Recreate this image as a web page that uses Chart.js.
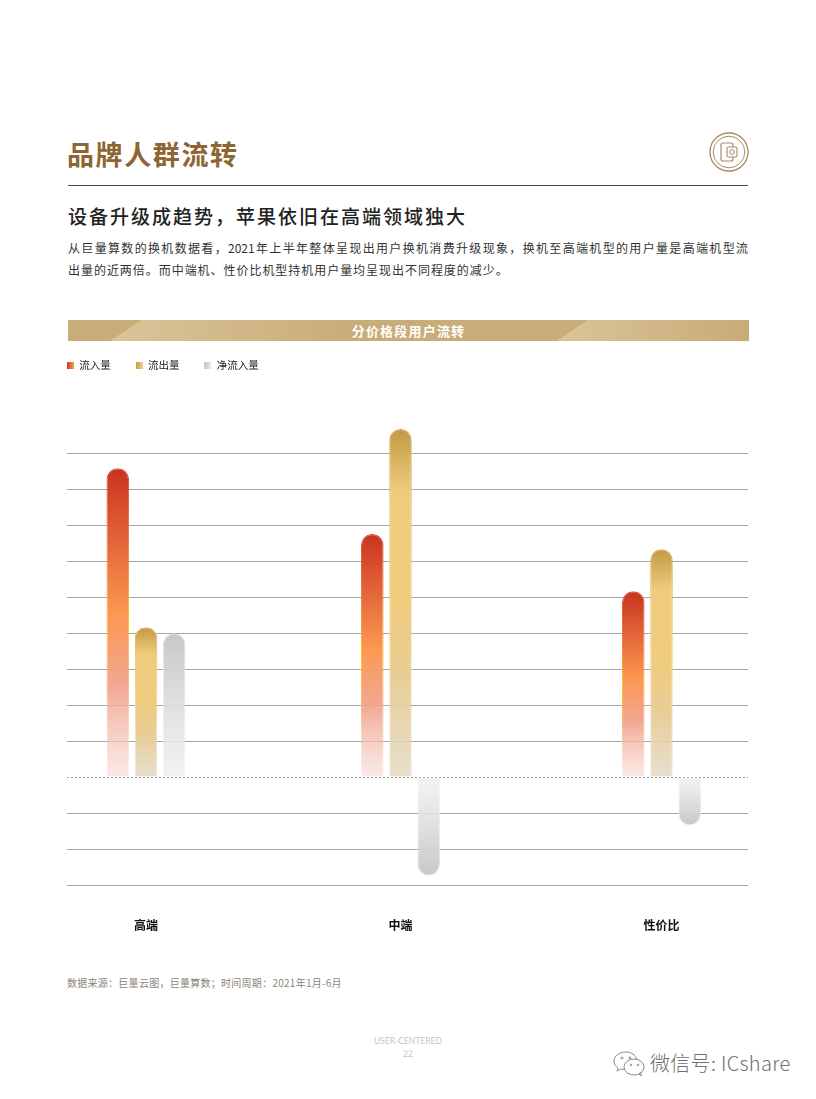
<!DOCTYPE html>
<html lang="zh"><head><meta charset="utf-8">
<script src="https://cdn.jsdelivr.net/npm/chart.js@4"></script>
<style>
html,body{margin:0;padding:0;background:#fff}
#page{position:relative;width:816px;height:1099px;overflow:hidden;font-family:"Noto Sans CJK SC","Noto Sans",sans-serif}
#page div{position:absolute;white-space:nowrap}
#t1{left:67px;top:134px;font-size:27px;line-height:40px;font-weight:700;color:#8d6634;letter-spacing:1.6px}
#rule{left:68px;top:185px;width:680px;height:1px;background:#4a4a4a}
#t2{left:68px;top:202px;font-size:19px;line-height:28px;font-weight:500;color:#222;letter-spacing:2px}
.body{left:68px;width:680px;font-size:12px;line-height:18px;color:#333;}
#b1{top:239px;text-align:justify;text-align-last:justify}
#b2{top:261px;letter-spacing:.96px}
#band{left:68px;top:320px;width:681px;height:21px;background:#c9ad78}
.glow{top:0;height:21px}
#g1{left:42px;width:240px;background:linear-gradient(90deg,#dbc49a,#c9ad78);clip-path:polygon(0 100%,32px 0,100% 0,100% 100%)}
#g2{left:489px;width:180px;background:linear-gradient(90deg,#dbc49a,#c9ad78);clip-path:polygon(0 100%,30px 0,100% 0,100% 100%)}
#bt{left:0;width:681px;text-align:center;top:0;line-height:22px;font-size:13px;font-weight:700;color:#fff;letter-spacing:1.2px}
#src{left:67px;top:975px;font-size:10px;line-height:15px;color:#8c8479;letter-spacing:.27px}
#f1{left:308px;width:200px;text-align:center;top:1035px;font-size:8.5px;line-height:13px;color:#c9c5bc;font-family:Lato,sans-serif}
#f2{left:308px;width:200px;text-align:center;top:1048px;font-size:8.5px;line-height:13px;color:#c9c5bc;font-family:Lato,sans-serif}
#wm{left:650px;top:1049px;font-size:20px;line-height:28px;color:#6f6f6f;font-weight:300;letter-spacing:.3px}
#cv{position:absolute;left:42px;top:335px;width:706px;height:605px}
svg{position:absolute}
</style></head><body>
<div id="page">
<div id="t1">品牌人群流转</div>
<svg style="left:708px;top:131px" width="42" height="42" viewBox="0 0 42 42" fill="none" stroke="#a98a66">
<circle cx="21" cy="21" r="19" stroke-width="1.3"/><circle cx="21" cy="21" r="15.8" stroke-width="1"/>
<rect x="13" y="12" width="12" height="18" rx="2" stroke-width="1.2"/><rect x="19" y="16" width="10" height="10" rx="1.5" fill="#fff" stroke-width="1.1"/><circle cx="24" cy="21" r="2.4" stroke-width="1"/>
</svg>
<div id="rule"></div>
<div id="t2">设备升级成趋势，苹果依旧在高端领域独大</div>
<div class="body" id="b1">从巨量算数的换机数据看，2021年上半年整体呈现出用户换机消费升级现象，换机至高端机型的用户量是高端机型流</div>
<div class="body" id="b2">出量的近两倍。而中端机、性价比机型持机用户量均呈现出不同程度的减少。</div>
<div id="band"><div class="glow" id="g1"></div><div class="glow" id="g2"></div><div id="bt">分价格段用户流转</div></div>
<canvas id="cv" width="706" height="605"></canvas>
<div id="src">数据来源：巨量云图，巨量算数；时间周期：2021年1月-6月</div>
<div id="f1">USER-CENTERED</div><div id="f2">22</div>
<svg style="left:612px;top:1049px" width="34" height="28" viewBox="0 0 34 28" fill="none" stroke="#8a8a8a" stroke-width="1">
<path d="M14 3C7 3 2 7 2 12c0 3 1.500 5 4 7l-1 3 4-2c1 .3 2 .4 3 .4"/><path d="M14 3c5 0 10 3 11 8"/>
<ellipse cx="22" cy="18" rx="10" ry="8"/><path d="M27 25l2 2v-4"/>
<circle cx="10" cy="9" r="1"/><circle cx="18" cy="9" r="1"/><circle cx="19" cy="16" r=".8"/><circle cx="26" cy="16" r=".8"/>
</svg>
<div id="wm">微信号: ICshare</div>
</div>
<script>
const categories = ['高端', '中端', '性价比'];
const inflow  = [8.59, 6.76, 5.17];
const outflow = [4.17, 9.68, 6.34];
const netflow = [4.0, -2.74, -1.34];
const seriesNames = ['流入量', '流出量', '净流入量'];
const gridTicks = [-3,-2,-1,0,1,2,3,4,5,6,7,8,9];

// appearance only
const groupNudge = [0, -0.0126, 0];
const stops = {
  red:  [[0,'rgba(248,215,208,.55)'],[.3,'rgba(240,160,135,.92)'],[.53,'#fd9751'],[1,'#c9331f']],
  gold: [[0,'rgba(226,214,192,.8)'],[.3,'#e8cd94'],[.5,'#f0cc7e'],[.82,'#efcb7d'],[1,'#c29a42']],
  gray: [[0,'rgba(240,240,240,.8)'],[1,'#c8c8c8']]
};
const edges = {
  red:  [[0,'rgba(248,225,220,.4)'],[.3,'#f5b48a'],[.5,'#ffc21f'],[.8,'#e8704a'],[1,'#d0462f']],
  gold: [[0,'rgba(230,220,200,.6)'],[.5,'#f2d590'],[1,'#cfa952']],
  gray: [[0,'rgba(240,240,240,.6)'],[1,'#e2e2e2']]
};
function barGradient(list){
  return ctx => {
    const p = ctx.parsed;
    if(!p || !ctx.chart.scales.y) return list[list.length-1][1];
    const y = ctx.chart.scales.y;
    const g = ctx.chart.ctx.createLinearGradient(0,y.getPixelForValue(0),0,y.getPixelForValue(p.y));
    list.forEach(s=>g.addColorStop(s[0],s[1]));
    return g;
  };
}
function swatch(a,b){
  const c=document.createElement('canvas');c.width=7;c.height=7;
  const x=c.getContext('2d');const g=x.createLinearGradient(0,0,7,0);
  g.addColorStop(0,a);g.addColorStop(1,b);x.fillStyle=g;x.fillRect(0,0,7,7);return c;
}
const swatches=[swatch('#cc3a22','#f7a05a'),swatch('#c39a40','#f0d28c'),swatch('#c6c6c6','#efefef')];
const series=[inflow,outflow,netflow];
const looks=['red','gold','gray'];

new Chart(document.getElementById('cv'),{
  type:'bar',
  data:{datasets:series.map((vals,k)=>({
    label:seriesNames[k],
    data:vals.map((v,i)=>({x:i+groupNudge[i],y:v})),
    backgroundColor:barGradient(stops[looks[k]]),
    borderColor:barGradient(edges[looks[k]]),
    borderWidth:1,
    borderSkipped:'start',
    borderRadius:11.5,
    categoryPercentage:.3324,
    barPercentage:.8
  }))},
  options:{
    responsive:false,animation:false,devicePixelRatio:1,
    layout:{padding:0},
    plugins:{
      tooltip:{enabled:false},
      legend:{
        position:'top',align:'start',
        labels:{
          padding:25,boxWidth:7,boxHeight:7,usePointStyle:true,
          color:'#222',font:{family:'"Noto Sans CJK SC"',size:10.5},
          generateLabels:()=>seriesNames.map((n,i)=>({text:n,pointStyle:swatches[i],datasetIndex:i,fontColor:'#222',lineWidth:0,strokeStyle:'transparent',fillStyle:'transparent'}))
        }
      }
    },
    scales:{
      x:{
        type:'linear',offset:false,min:-0.3065,max:2.3356,
        afterBuildTicks:s=>{s.ticks=categories.map((c,i)=>({value:i+groupNudge[i]}));},
        afterFit:s=>{s.height=55;},
        grid:{display:false},border:{display:false},
        ticks:{
          autoSkip:false,maxRotation:0,minRotation:0,padding:25,color:'#111',
          font:{family:'"Noto Sans CJK SC"',size:12,weight:'700'},
          callback:(v,i)=>categories[i]
        }
      },
      y:{
        type:'linear',min:-3,max:11.03,
        afterBuildTicks:s=>{s.ticks=gridTicks.map(v=>({value:v}));},
        afterFit:s=>{s.width=25;},
        ticks:{display:false},
        border:{display:false,dash:c=>c.tick&&c.tick.value===0?[2,2]:[]},
        grid:{
          drawTicks:false,lineWidth:1,
          color:c=>c.tick&&c.tick.value===0?'#9a9a9a':'#a6a6a6'
        }
      }
    }
  }
});
</script>
</body></html>
